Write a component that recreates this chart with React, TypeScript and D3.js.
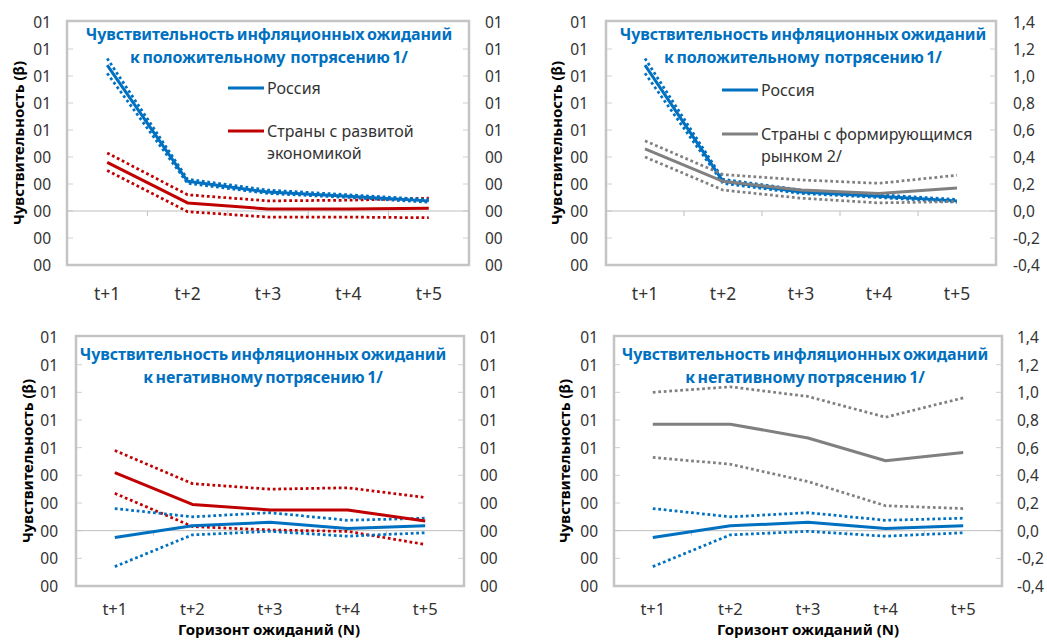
import React, { useEffect, useRef } from "react";
import * as d3 from "d3";

const categories = ["t+1", "t+2", "t+3", "t+4", "t+5"];
const yTicks = [-0.4, -0.2, 0, 0.2, 0.4, 0.6, 0.8, 1.0, 1.2, 1.4];
// the left axis (and the right axis of the left panels) shows rounded labels
const roundedTickLabels = ["00", "00", "00", "00", "00", "01", "01", "01", "01", "01"];
const valueTickLabels = ["-0,4", "-0,2", "0,0", "0,2", "0,4", "0,6", "0,8", "1,0", "1,2", "1,4"];

const titleLine1 = "Чувствительность инфляционных ожиданий";
const posTitleLine2 = "к положительному  потрясению 1/";
const negTitleLine2 = "к негативному потрясению 1/";
const yTitle = "Чувствительность (β)";
const xTitle = "Горизонт ожиданий (N)";

// positive shock
const posRussia = [1.08, 0.22, 0.14, 0.11, 0.075];
const posRussiaHi = [1.13, 0.235, 0.155, 0.12, 0.085];
const posRussiaLo = [1.02, 0.205, 0.13, 0.1, 0.065];
const posDeveloped = [0.36, 0.06, 0.015, 0.015, 0.02];
const posDevelopedHi = [0.43, 0.12, 0.075, 0.08, 0.095];
const posDevelopedLo = [0.3, -0.005, -0.045, -0.045, -0.05];
const posEmerging = [0.46, 0.22, 0.155, 0.13, 0.17];
const posEmergingHi = [0.52, 0.27, 0.23, 0.205, 0.265];
const posEmergingLo = [0.4, 0.155, 0.095, 0.06, 0.07];

// negative shock
const negRussia = [-0.05, 0.035, 0.06, 0.015, 0.035];
const negRussiaHi = [0.16, 0.1, 0.13, 0.075, 0.09];
const negRussiaLo = [-0.26, -0.03, -0.005, -0.04, -0.015];
const negDeveloped = [0.42, 0.19, 0.15, 0.15, 0.07];
const negDevelopedHi = [0.58, 0.34, 0.3, 0.31, 0.24];
const negDevelopedLo = [0.27, 0.03, 0.005, -0.005, -0.1];
const negEmerging = [0.77, 0.77, 0.67, 0.505, 0.565];
const negEmergingHi = [1.0, 1.04, 0.97, 0.82, 0.96];
const negEmergingLo = [0.53, 0.48, 0.355, 0.18, 0.16];

const BLUE = "#0070C0";
const RED = "#C00000";
const GRAY = "#808080";
const TEXT = "#333333";
const FONT = "'Noto Sans', 'Open Sans', sans-serif";

type Series = { values: number[]; color: string; dotted: boolean };

type Panel = {
  frame: [number, number, number, number];
  yRange: [number, number];
  leftLabelX: number;
  rightLabelX: number;
  rightLabels: string[];
  yTitleX: number;
  titleX: number;
  titleY: number;
  line2: string;
  catY: number;
  catSize: number;
  xTitleX?: number;
  xTitleY?: number;
  legend?: { x0: number; x1: number; items: { y: number; color: string; lines: string[] }[] };
  series: Series[];
};

const panels: Panel[] = [
  {
    frame: [67, 469, 21, 265],
    yRange: [265, 22],
    leftLabelX: 51,
    rightLabelX: 485,
    rightLabels: roundedTickLabels,
    yTitleX: 18,
    titleX: 269,
    titleY: 34,
    line2: posTitleLine2,
    catY: 293,
    catSize: 17.5,
    legend: {
      x0: 228,
      x1: 264,
      items: [
        { y: 88, color: BLUE, lines: ["Россия"] },
        { y: 131, color: RED, lines: ["Страны с развитой", "экономикой"] },
      ],
    },
    series: [
      { values: posDevelopedHi, color: RED, dotted: true },
      { values: posDevelopedLo, color: RED, dotted: true },
      { values: posDeveloped, color: RED, dotted: false },
      { values: posRussiaHi, color: BLUE, dotted: true },
      { values: posRussiaLo, color: BLUE, dotted: true },
      { values: posRussia, color: BLUE, dotted: false },
    ],
  },
  {
    frame: [606, 996, 21, 265],
    yRange: [265, 22],
    leftLabelX: 588,
    rightLabelX: 1013,
    rightLabels: valueTickLabels,
    yTitleX: 556,
    titleX: 803,
    titleY: 34,
    line2: posTitleLine2,
    catY: 293,
    catSize: 17.5,
    legend: {
      x0: 722,
      x1: 758,
      items: [
        { y: 90, color: BLUE, lines: ["Россия"] },
        { y: 134, color: GRAY, lines: ["Страны с формирующимся", "рынком 2/"] },
      ],
    },
    series: [
      { values: posRussiaHi, color: BLUE, dotted: true },
      { values: posRussiaLo, color: BLUE, dotted: true },
      { values: posRussia, color: BLUE, dotted: false },
      { values: posEmergingHi, color: GRAY, dotted: true },
      { values: posEmergingLo, color: GRAY, dotted: true },
      { values: posEmerging, color: GRAY, dotted: false },
    ],
  },
  {
    frame: [76, 464, 336, 586],
    yRange: [586, 337],
    leftLabelX: 58,
    rightLabelX: 480,
    rightLabels: roundedTickLabels,
    yTitleX: 27,
    titleX: 263,
    titleY: 354,
    line2: negTitleLine2,
    catY: 608,
    catSize: 16.5,
    xTitleX: 269,
    xTitleY: 629,
    series: [
      { values: negDevelopedHi, color: RED, dotted: true },
      { values: negDevelopedLo, color: RED, dotted: true },
      { values: negRussiaHi, color: BLUE, dotted: true },
      { values: negRussiaLo, color: BLUE, dotted: true },
      { values: negDeveloped, color: RED, dotted: false },
      { values: negRussia, color: BLUE, dotted: false },
    ],
  },
  {
    frame: [614, 1002, 336, 586],
    yRange: [586, 337],
    leftLabelX: 598,
    rightLabelX: 1017,
    rightLabels: valueTickLabels,
    yTitleX: 564,
    titleX: 805,
    titleY: 354,
    line2: negTitleLine2,
    catY: 608,
    catSize: 16.5,
    xTitleX: 808,
    xTitleY: 629,
    series: [
      { values: negEmergingHi, color: GRAY, dotted: true },
      { values: negEmergingLo, color: GRAY, dotted: true },
      { values: negEmerging, color: GRAY, dotted: false },
      { values: negRussiaHi, color: BLUE, dotted: true },
      { values: negRussiaLo, color: BLUE, dotted: true },
      { values: negRussia, color: BLUE, dotted: false },
    ],
  },
];

function drawPanel(svg: d3.Selection<SVGSVGElement, unknown, null, undefined>, p: Panel) {
  const [fx0, fx1, fy0, fy1] = p.frame;
  const g = svg.append("g");

  const x = d3.scaleBand<string>().domain(categories).range([fx0, fx1]);
  const y = d3.scaleLinear().domain([-0.4, 1.4]).range(p.yRange);
  const cx = (c: string) => (x(c) ?? 0) + x.bandwidth() / 2;

  // frame
  g.append("rect")
    .attr("x", fx0)
    .attr("y", fy0)
    .attr("width", fx1 - fx0)
    .attr("height", fy1 - fy0)
    .attr("fill", "#fff")
    .attr("stroke", "#c4c4c4")
    .attr("stroke-width", 2.5);

  // short inner ticks on both vertical axes
  g.selectAll("line.lt")
    .data(yTicks.slice(1, -1))
    .join("line")
    .attr("x1", fx0 + 1)
    .attr("x2", fx0 + 6)
    .attr("y1", (d) => y(d))
    .attr("y2", (d) => y(d))
    .attr("stroke", "#d0d0d0");
  g.selectAll("line.rt")
    .data(yTicks.slice(1, -1))
    .join("line")
    .attr("x1", fx1 - 6)
    .attr("x2", fx1 - 1)
    .attr("y1", (d) => y(d))
    .attr("y2", (d) => y(d))
    .attr("stroke", "#d0d0d0");

  // zero axis with category separators
  g.append("line")
    .attr("x1", fx0)
    .attr("x2", fx1)
    .attr("y1", y(0))
    .attr("y2", y(0))
    .attr("stroke", "#bfbfbf");
  g.selectAll("line.sep")
    .data(categories.slice(1))
    .join("line")
    .attr("x1", (d) => x(d) ?? 0)
    .attr("x2", (d) => x(d) ?? 0)
    .attr("y1", y(0))
    .attr("y2", y(0) + 5)
    .attr("stroke", "#bfbfbf");

  // axis labels
  const label = (sel: d3.Selection<SVGTextElement, any, any, any>) =>
    sel.attr("font-family", FONT).attr("font-size", 15.5).attr("fill", TEXT).attr("dominant-baseline", "central");

  g.selectAll("text.ll")
    .data(yTicks)
    .join("text")
    .attr("x", p.leftLabelX)
    .attr("y", (d) => y(d))
    .attr("text-anchor", "end")
    .text((_, i) => roundedTickLabels[i])
    .call(label);
  g.selectAll("text.rl")
    .data(yTicks)
    .join("text")
    .attr("x", p.rightLabelX)
    .attr("y", (d) => y(d))
    .attr("text-anchor", "start")
    .text((_, i) => p.rightLabels[i])
    .call(label);
  g.selectAll("text.cl")
    .data(categories)
    .join("text")
    .attr("x", (d) => cx(d))
    .attr("y", p.catY)
    .attr("text-anchor", "middle")
    .text((d) => d)
    .call(label)
    .attr("font-size", p.catSize);

  // y title
  const ty = (fy0 + fy1) / 2;
  g.append("text")
    .attr("transform", `translate(${p.yTitleX},${ty}) rotate(-90)`)
    .attr("text-anchor", "middle")
    .attr("dominant-baseline", "central")
    .attr("font-family", FONT)
    .attr("font-weight", "bold")
    .attr("font-size", 15)
    .attr("fill", "#000")
    .text(yTitle);

  if (p.xTitleX !== undefined) {
    g.append("text")
      .attr("x", p.xTitleX)
      .attr("y", p.xTitleY!)
      .attr("text-anchor", "middle")
      .attr("dominant-baseline", "central")
      .attr("font-family", FONT)
      .attr("font-weight", "bold")
      .attr("font-size", 15)
      .attr("fill", "#000")
      .text(xTitle);
  }

  // chart title
  [titleLine1, p.line2].forEach((t, i) => {
    g.append("text")
      .attr("x", p.titleX)
      .attr("y", p.titleY + i * 23)
      .attr("text-anchor", "middle")
      .attr("dominant-baseline", "central")
      .attr("font-family", FONT)
      .attr("font-weight", "bold")
      .attr("font-size", 16)
      .attr("letter-spacing", -0.1)
      .attr("word-spacing", -1.5)
      .attr("fill", BLUE)
      .style("white-space", "pre")
      .text(t);
  });

  // legend
  if (p.legend) {
    const lg = p.legend;
    lg.items.forEach((it) => {
      g.append("line")
        .attr("x1", lg.x0)
        .attr("x2", lg.x1)
        .attr("y1", it.y)
        .attr("y2", it.y)
        .attr("stroke", it.color)
        .attr("stroke-width", 3);
      it.lines.forEach((t, i) => {
        g.append("text")
          .attr("x", lg.x1 + 3)
          .attr("y", it.y + i * 22)
          .attr("dominant-baseline", "central")
          .attr("font-family", FONT)
          .attr("font-size", 16)
          .attr("fill", TEXT)
          .text(t);
      });
    });
  }

  // series
  const line = d3
    .line<number>()
    .x((_, i) => cx(categories[i]))
    .y((d) => y(d));

  p.series.forEach((s) => {
    g.append("path")
      .attr("d", line(s.values))
      .attr("fill", "none")
      .attr("stroke", s.color)
      .attr("stroke-width", s.dotted ? 2.75 : 3)
      .attr("stroke-dasharray", s.dotted ? "2.75,2.75" : null)
      .attr("stroke-linejoin", "round");
  });
}

export default function App() {
  const ref = useRef<SVGSVGElement>(null);

  useEffect(() => {
    const svg = d3.select(ref.current!);
    svg.selectAll("*").remove();
    panels.forEach((p) => drawPanel(svg, p));
  }, []);

  return (
    <svg
      ref={ref}
      width={1047}
      height={640}
      style={{ position: "absolute", left: 0, top: 0, background: "#fff" }}
    />
  );
}
